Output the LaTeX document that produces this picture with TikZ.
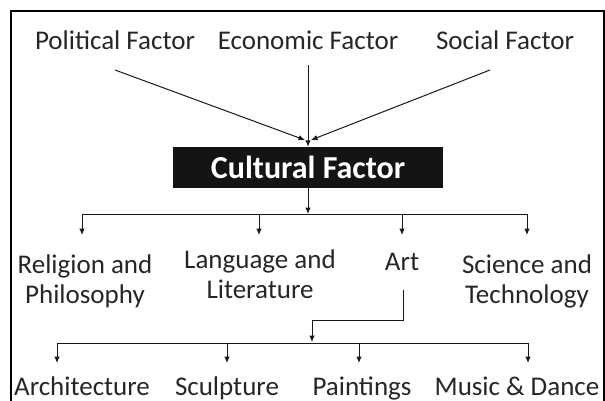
\documentclass[tikz,border=0pt]{standalone}
\usepackage{fontspec}
\setmainfont{Carlito}
\usetikzlibrary{arrows.meta}
\begin{document}
\begin{tikzpicture}[x=1pt,y=-1pt,
  lbl/.style={anchor=base,inner sep=0pt,font=\fontsize{27}{31}\selectfont,text=black!85},
  conn/.style={line width=1pt,draw=black!90},
  arr/.style={conn,-{Latex[length=6.5pt,width=5.5pt]}},
  cbox/.style={fill=black!92,text=white,minimum width=270pt,minimum height=41pt,inner sep=0pt,font=\fontsize{32}{36}\selectfont\bfseries}]
\useasboundingbox (0,0) rectangle (605,401);
% frame
\draw[line width=1.1pt] (11,401) -- (11,11) -- (604,11) -- (604,401);
% top factors
\node[lbl] (pol) at (115,50) {Political Factor};
\node[lbl] (eco) at (308,50) {Economic Factor};
\node[lbl] (soc) at (505,50) {Social Factor};
\node[cbox] (cf) at (308,167.5) {Cultural Factor};
\coordinate (p1) at (115,70);
\coordinate (p2) at (305,140);
\coordinate (s1) at (490,70);
\coordinate (s2) at (311,140);
\coordinate (e1) at (308,65);
\draw[arr] (p1) -- (p2);
\draw[arr] (s1) -- (s2);
\draw[arr] (e1) -- (cf.north);
% second level
\coordinate (h1) at (308,214);
\draw[arr] (cf.south) -- (h1);
\coordinate (hl) at (82,214);
\coordinate (hr) at (527,214);
\draw[conn] (hl) -- (hr);
\node[lbl] (rel) at (85,273) {Religion and};
\node[lbl] (rel2) at (85,303) {Philosophy};
\node[lbl] (lan) at (260,268) {Language and};
\node[lbl] (lan2) at (260,298) {Literature};
\node[lbl] (art) at (402,270) {Art};
\node[lbl] (sci) at (527,273) {Science and};
\node[lbl] (sci2) at (527,303) {Technology};
\coordinate (t1) at (82,235);
\coordinate (t2) at (259,235);
\coordinate (t3) at (402,235);
\coordinate (t4) at (527,235);
\draw[arr] (hl) -- (t1);
\draw[arr] (hl -| t2) -- (t2);
\draw[arr] (hl -| t3) -- (t3);
\draw[arr] (hr) -- (t4);
% art branch
\coordinate (a1) at (403,290);
\coordinate (a2) at (403,320);
\coordinate (a3) at (312,320);
\coordinate (a4) at (312,342);
\draw[arr] (a1) -- (a2) -- (a3) -- (a4);
\coordinate (bl) at (57,343);
\coordinate (br) at (528,343);
\draw[conn] (bl) -- (br);
\node[lbl] (archi) at (82,395) {Architecture};
\node[lbl] (scu) at (227,395) {Sculpture};
\node[lbl] (pai) at (362,395) {Paintings};
\node[lbl] (mus) at (517,395) {Music \& Dance};
\coordinate (b1) at (57,363);
\coordinate (b2) at (227,363);
\coordinate (b3) at (359,363);
\coordinate (b4) at (528,363);
\draw[arr] (bl) -- (b1);
\draw[arr] (bl -| b2) -- (b2);
\draw[arr] (bl -| b3) -- (b3);
\draw[arr] (br) -- (b4);
\end{tikzpicture}
\end{document}
